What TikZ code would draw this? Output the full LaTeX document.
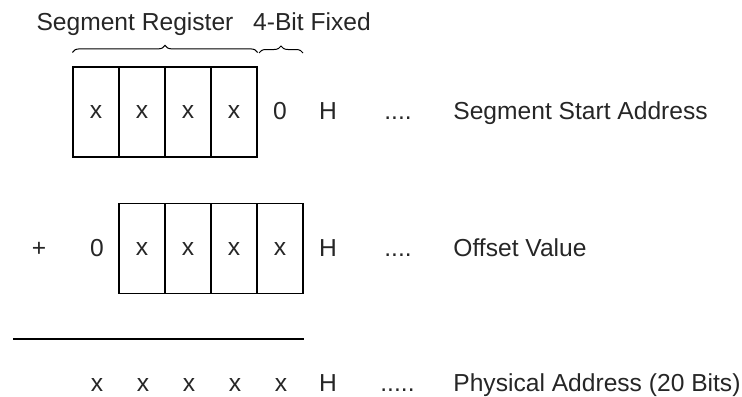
\documentclass[tikz,border=0pt]{standalone}
\usepackage{fontspec}
\setmainfont{Liberation Sans}
\usetikzlibrary{positioning,decorations.pathreplacing}
\tikzset{
    cell/.style={draw, line width=0.6pt, minimum width=23pt, minimum height=45pt, inner sep=0pt},
    digit/.style={anchor=base, inner sep=0pt},
    note/.style={anchor=base west, inner sep=0pt},
    brace/.style={decorate, decoration={brace, amplitude=3.5pt}, line width=0.5pt}
}

\begin{document}
\begin{tikzpicture}[x=0.5pt, y=-0.5pt, font=\fontsize{12.3}{14}\selectfont, text=black!85]
    \useasboundingbox (0,0) rectangle (742,396);

    % Segment register row
    \foreach \i in {1,...,4} {
        \node[cell] (seg\i) at (50+46*\i,112) {x};
    }
    \node[digit] (segz) at (280,119) {0};
    \node[digit] (segh) at (328,119) {H};
    \node[note] (segdots) at (384,119) {....};
    \node[note] (seglbl) at (453,119) {Segment Start Address};

    % Braces and titles
    \coordinate (fixl) at (259,53);
    \coordinate (fixr) at (303,53);
    \draw[brace] ([yshift=7pt]seg1.north west) -- ([yshift=7pt]seg4.north east);
    \draw[brace] (fixl) -- (fixr);
    \node[digit] (regttl) at (135,30) {Segment Register};
    \node[digit] (fixttl) at (312,30) {4-Bit Fixed};

    % Offset row
    \node[digit] (plus) at (39,256) {+};
    \node[digit] (offz) at (97,256) {0};
    \foreach \i in {1,...,4} {
        \node[cell] (off\i) at (96+46*\i,248.5) {x};
    }
    \node[digit] (offh) at (328,256) {H};
    \node[note] (offdots) at (384,256) {....};
    \node[note] (offlbl) at (453,256) {Offset Value};

    % Sum line
    \draw[line width=0.6pt] (13,339) -- (off4.east |- 0,339);

    % Physical address row
    \foreach \i in {1,...,5} {
        \node[digit] (phy\i) at (51+46*\i,391) {x};
    }
    \node[digit] (phyh) at (328,391) {H};
    \node[note] (phydots) at (380,391) {.....};
    \node[note] (phylbl) at (453,391) {Physical Address (20 Bits)};
\end{tikzpicture}
\end{document}
